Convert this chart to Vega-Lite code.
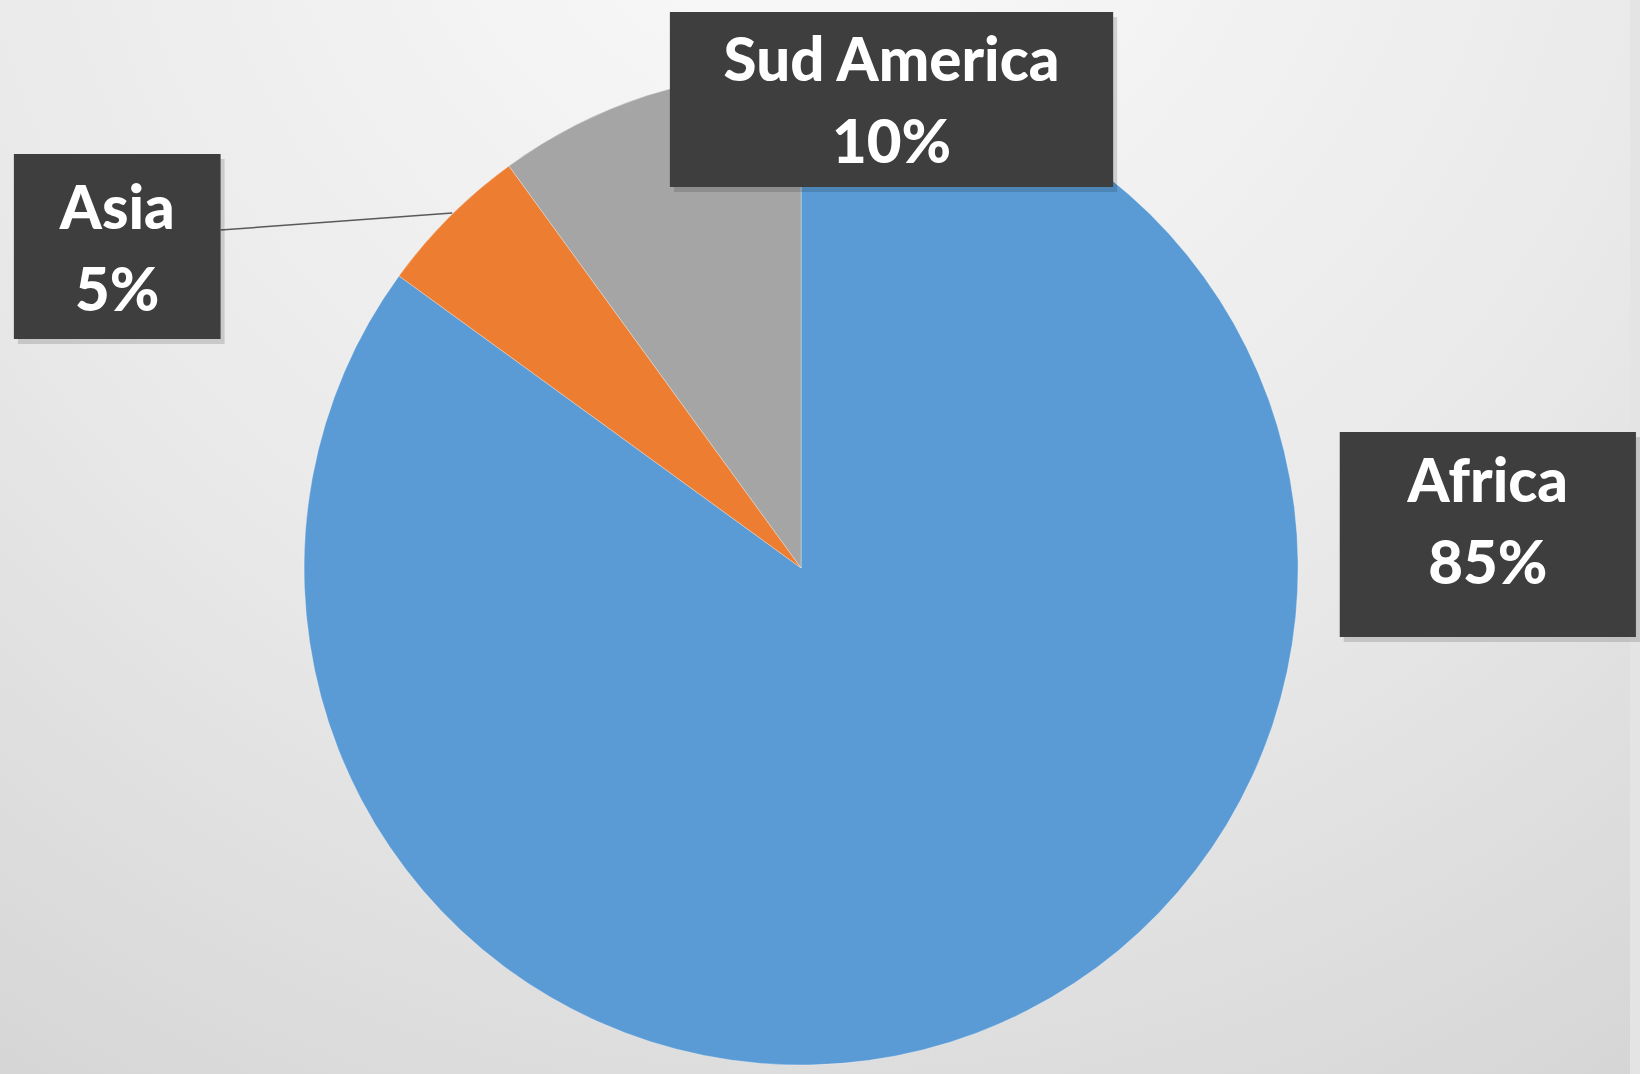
{
  "$schema": "https://vega.github.io/schema/vega-lite/v6.json",
  "width": 1640,
  "height": 1074,
  "autosize": {"type": "fit", "contains": "padding"},
  "padding": 0,
  "background": "#e4e4e4",
  "config": {"view": {"stroke": null}},
  "data": {"values": [
    {"region": "Africa", "value": 85},
    {"region": "Asia", "value": 5},
    {"region": "Sud America", "value": 10}
  ]},
  "layer": [
    {
      "data": {"values": [{"bg": 1}]},
      "mark": {"type": "rect", "color": {"gradient": "radial", "x1": 0.5, "y1": 0.05, "r1": 0, "x2": 0.5, "y2": 0.05, "r2": 1.0, "stops": [{"offset": 0, "color": "#fbfbfb"}, {"offset": 0.55, "color": "#e9e9e9"}, {"offset": 1, "color": "#d2d2d2"}]}},
      "encoding": {
        "x": {"datum": -1.6217, "type": "quantitative", "scale": {"domain": [-1.6217, 1.6781], "nice": false, "zero": false}, "axis": null},
        "x2": {"datum": 1.6781},
        "y": {"datum": -1.0181, "type": "quantitative", "scale": {"domain": [-1.0181, 1.1429], "nice": false, "zero": false}, "axis": null},
        "y2": {"datum": 1.1429}
      }
    },
    {
      "mark": {"type": "arc", "outerRadius": 497, "stroke": "#ffffff", "strokeWidth": 0.6, "strokeOpacity": 0.5},
      "encoding": {
        "theta": {"field": "value", "type": "quantitative", "stack": true},
        "order": {"field": "region", "sort": "ascending"},
        "color": {"field": "region", "type": "nominal", "scale": {"domain": ["Africa", "Asia", "Sud America"], "range": ["#5B9BD5", "#ED7D31", "#A5A5A5"]}, "legend": null},
        "x": {"datum": 0, "type": "quantitative", "axis": null},
        "y": {"datum": 0, "type": "quantitative", "axis": null}
      }
    },
    {
      "transform": [{"filter": "datum.region === 'Asia'"}],
      "mark": {"type": "rule", "color": "#595959", "strokeWidth": 1.5},
      "encoding": {
        "x": {"datum": -1.1751, "type": "quantitative", "axis": null},
        "x2": {"datum": -0.7062},
        "y": {"datum": 0.6801, "type": "quantitative", "axis": null},
        "y2": {"datum": 0.7143}
      }
    },
    {
      "transform": [{"filter": "datum.region === 'Sud America'"}],
      "mark": {"type": "rect", "color": "#000000", "opacity": 0.14, "xOffset": 4, "x2Offset": 4, "yOffset": 5, "y2Offset": 5},
      "encoding": {
        "x": {"datum": -0.2656, "type": "quantitative", "axis": null},
        "x2": {"datum": 0.6318},
        "y": {"datum": 0.7666, "type": "quantitative", "axis": null},
        "y2": {"datum": 1.1187}
      }
    },
    {
      "transform": [{"filter": "datum.region === 'Asia'"}],
      "mark": {"type": "rect", "color": "#000000", "opacity": 0.14, "xOffset": 4, "x2Offset": 4, "yOffset": 5, "y2Offset": 5},
      "encoding": {
        "x": {"datum": -1.5936, "type": "quantitative", "axis": null},
        "x2": {"datum": -1.1751},
        "y": {"datum": 0.4608, "type": "quantitative", "axis": null},
        "y2": {"datum": 0.8330}
      }
    },
    {
      "transform": [{"filter": "datum.region === 'Africa'"}],
      "mark": {"type": "rect", "color": "#000000", "opacity": 0.14, "xOffset": 4, "x2Offset": 4, "yOffset": 5, "y2Offset": 5},
      "encoding": {
        "x": {"datum": 1.0905, "type": "quantitative", "axis": null},
        "x2": {"datum": 1.6901},
        "y": {"datum": -0.1388, "type": "quantitative", "axis": null},
        "y2": {"datum": 0.2736}
      }
    },
    {
      "transform": [{"filter": "datum.region === 'Sud America'"}],
      "mark": {"type": "rect", "color": "#3e3e3e"},
      "encoding": {
        "x": {"datum": -0.2656, "type": "quantitative", "axis": null},
        "x2": {"datum": 0.6318},
        "y": {"datum": 0.7666, "type": "quantitative", "axis": null},
        "y2": {"datum": 1.1187}
      }
    },
    {
      "transform": [{"filter": "datum.region === 'Asia'"}],
      "mark": {"type": "rect", "color": "#3e3e3e"},
      "encoding": {
        "x": {"datum": -1.5936, "type": "quantitative", "axis": null},
        "x2": {"datum": -1.1751},
        "y": {"datum": 0.4608, "type": "quantitative", "axis": null},
        "y2": {"datum": 0.8330}
      }
    },
    {
      "transform": [{"filter": "datum.region === 'Africa'"}],
      "mark": {"type": "rect", "color": "#3e3e3e"},
      "encoding": {
        "x": {"datum": 1.0905, "type": "quantitative", "axis": null},
        "x2": {"datum": 1.6901},
        "y": {"datum": -0.1388, "type": "quantitative", "axis": null},
        "y2": {"datum": 0.2736}
      }
    },
    {
      "transform": [{"filter": "datum.region === 'Sud America'"}, {"calculate": "[datum.region, datum.value + '%']", "as": "label"}],
      "mark": {"type": "text", "font": "Lato", "fontWeight": 900, "fontSize": 60, "color": "#ffffff", "align": "center", "baseline": "alphabetic", "lineHeight": 82},
      "encoding": {
        "x": {"datum": 0.1831, "type": "quantitative", "axis": null},
        "y": {"datum": 0.9799, "type": "quantitative", "axis": null},
        "text": {"field": "label"}
      }
    },
    {
      "transform": [{"filter": "datum.region === 'Asia'"}, {"calculate": "[datum.region, datum.value + '%']", "as": "label"}],
      "mark": {"type": "text", "font": "Lato", "fontWeight": 900, "fontSize": 60, "color": "#ffffff", "align": "center", "baseline": "alphabetic", "lineHeight": 82},
      "encoding": {
        "x": {"datum": -1.3843, "type": "quantitative", "axis": null},
        "y": {"datum": 0.6821, "type": "quantitative", "axis": null},
        "text": {"field": "label"}
      }
    },
    {
      "transform": [{"filter": "datum.region === 'Africa'"}, {"calculate": "[datum.region, datum.value + '%']", "as": "label"}],
      "mark": {"type": "text", "font": "Lato", "fontWeight": 900, "fontSize": 60, "color": "#ffffff", "align": "center", "baseline": "alphabetic", "lineHeight": 82},
      "encoding": {
        "x": {"datum": 1.3903, "type": "quantitative", "axis": null},
        "y": {"datum": 0.1328, "type": "quantitative", "axis": null},
        "text": {"field": "label"}
      }
    }
  ]
}
